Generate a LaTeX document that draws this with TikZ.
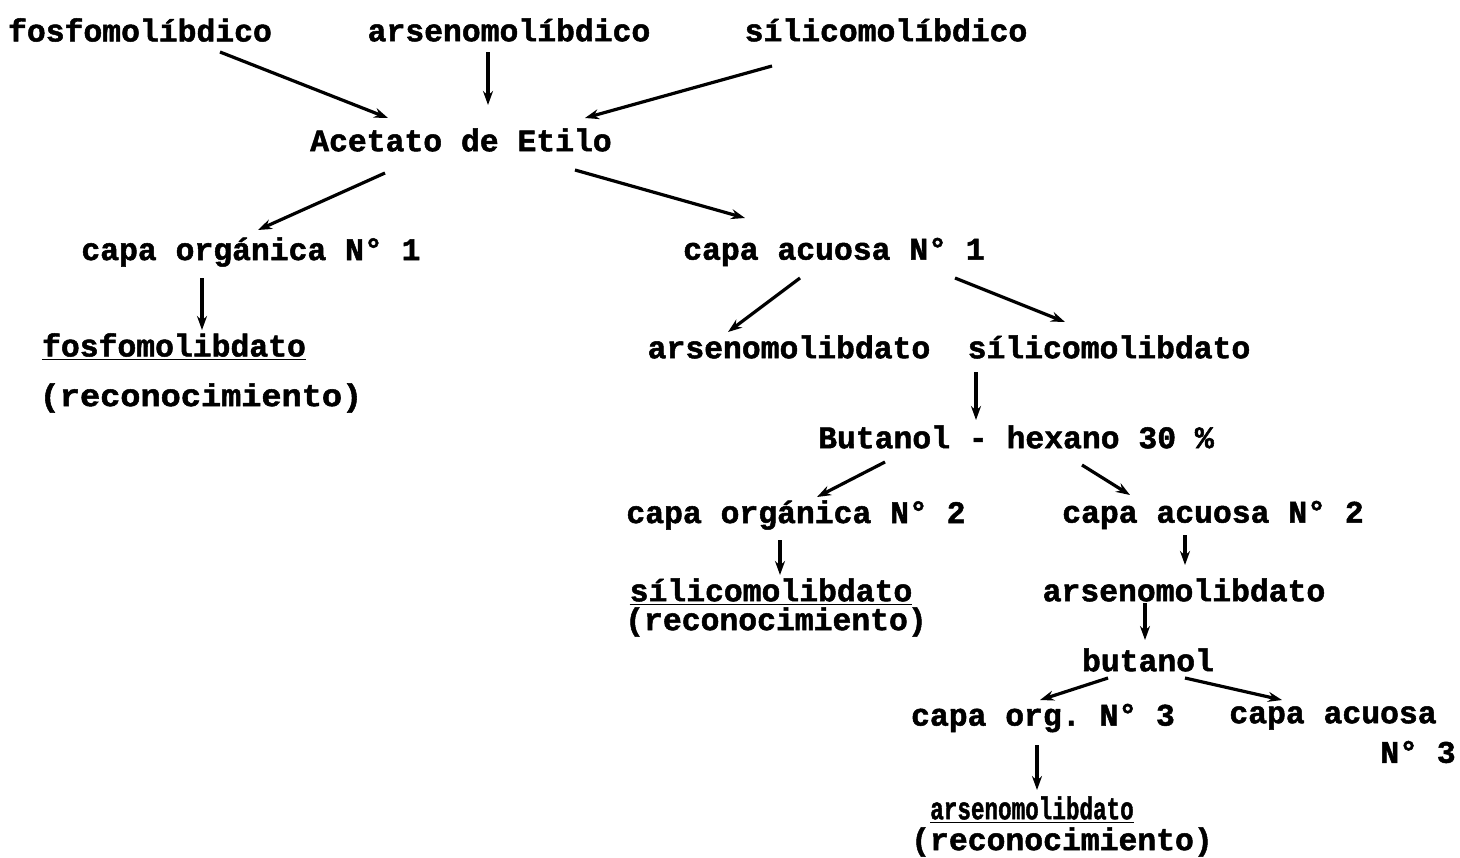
\documentclass[tikz,border=0pt]{standalone}
\usepackage{fontspec}
\setmonofont[BoldFeatures={FakeBold=1.6}]{Liberation Mono}
\usetikzlibrary{calc,arrows.meta}
\begin{document}
\begin{tikzpicture}[x=0.5pt,y=-0.5pt,
    lbl/.style={font=\ttfamily\bfseries\fontsize{15.7}{18}\selectfont,inner sep=1pt},
    arr/.style={line width=1.6pt,black,->,>={Stealth[length=7pt,width=5pt]}}]
    \useasboundingbox (0,0) rectangle (1460,857);
    % Heteropoliacidos
    \node[lbl] (fosfo) at (140,30) {fosfomolíbdico};
    \node[lbl] (arseno) at (509,30) {arsenomolíbdico};
    \node[lbl] (silico) at (886,30) {sílicomolíbdico};
    \node[lbl] (acet) at (461,140) {Acetato de Etilo};
    % Primera extraccion
    \node[lbl] (org1) at (251,252) {capa orgánica N° 1};
    \node[lbl] (acu1) at (834,252) {capa acuosa N° 1};
    \node[lbl] (fosfomo) at (174,347) {\underline{fosfomolibdato}};
    \node[lbl] (recon1) at (201,398) {\scalebox{1.07}[1]{(reconocimiento)}};
    \node[lbl] (arsmo1) at (789,347) {arsenomolibdato};
    \node[lbl] (silmo1) at (1109,347) {sílicomolibdato};
    % Segunda extraccion
    \node[lbl] (buhex) at (1016,437) {Butanol - hexano 30 \%};
    \node[lbl] (org2) at (796,515) {capa orgánica N° 2};
    \node[lbl] (acu2) at (1213,515) {capa acuosa N° 2};
    \node[lbl] (silmo2) at (771,592) {\underline{sílicomolibdato}};
    \node[lbl] (recon2) at (776,622) {(reconocimiento)};
    \node[lbl] (arsmo2) at (1184,590) {arsenomolibdato};
    % Tercera extraccion
    \node[lbl] (butan) at (1148,660) {butanol};
    \node[lbl] (org3) at (1043,718) {capa org. N° 3};
    \node[lbl] (acu3) at (1333,718) {capa acuosa};
    \node[lbl] (acu3n) at (1418,752) {N° 3};
    \node[lbl] (arsmo3) at (1032,810) {\scalebox{0.72}[1]{\underline{arsenomolibdato}}};
    \node[lbl] (recon3) at (1062,842) {(reconocimiento)};
    % Flechas
    \draw[arr] ($(fosfo)+(80,22)$) -- ($(acet)+(-73,-22)$);
    \draw[arr] ($(arseno)+(-21,22)$) -- ($(acet)+(27,-35)$);
    \draw[arr] ($(silico)+(-114,36)$) -- ($(acet)+(124,-22)$);
    \draw[arr] ($(acet)+(-76,33)$) -- ($(org1)+(7,-22)$);
    \draw[arr] ($(acet)+(114,30)$) -- ($(acu1)+(-89,-34)$);
    \draw[arr] ($(org1)+(-49,26)$) -- ($(fosfomo)+(28,-17)$);
    \draw[arr] ($(acu1)+(-34,26)$) -- ($(arsmo1)+(-61,-15)$);
    \draw[arr] ($(acu1)+(121,26)$) -- ($(silmo1)+(-44,-25)$);
    \draw[arr] ($(silmo1)+(-133,25)$) -- ($(buhex)+(-40,-17)$);
    \draw[arr] ($(buhex)+(-131,25)$) -- ($(org2)+(21,-18)$);
    \draw[arr] ($(buhex)+(66,28)$) -- ($(acu2)+(-83,-20)$);
    \draw[arr] ($(org2)+(-16,25)$) -- ($(silmo2)+(9,-17)$);
    \draw[arr] ($(acu2)+(-28,20)$) -- ($(arsmo2)+(1,-25)$);
    \draw[arr] ($(arsmo2)+(-39,13)$) -- ($(butan)+(-3,-20)$);
    \draw[arr] ($(butan)+(-40,18)$) -- ($(org3)+(-3,-18)$);
    \draw[arr] ($(butan)+(37,18)$) -- ($(acu3)+(-51,-18)$);
    \draw[arr] ($(org3)+(-6,27)$) -- ($(arsmo3)+(5,-20)$);
\end{tikzpicture}
\end{document}
